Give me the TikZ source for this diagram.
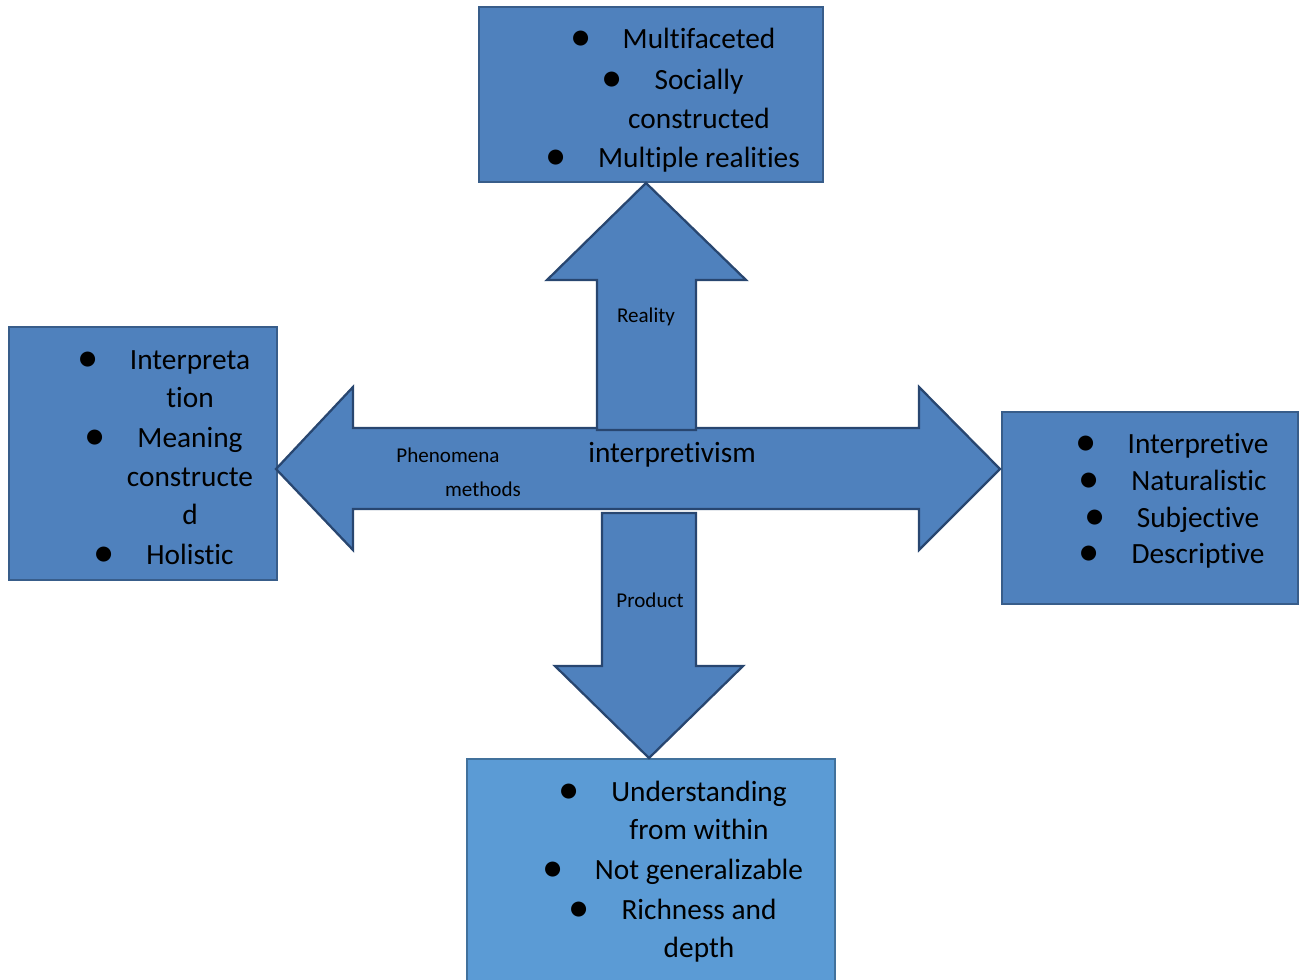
\documentclass[tikz,border=0pt]{standalone}
\usepackage{fontspec}
\usepackage{graphicx}
\setmainfont{Carlito}[Ligatures={NoCommon}]
\definecolor{boxfill}{HTML}{4F81BD}
\definecolor{boxline}{HTML}{385D8A}
\definecolor{arrline}{HTML}{284670}
\definecolor{botfill}{HTML}{5B9BD5}
\definecolor{botline}{HTML}{41719C}
\newcommand{\bul}{\llap{\makebox[0pt][c]{\smash{\raisebox{-1.5pt}{\scalebox{1.45}{\textbullet}}}}\kern31.5pt}}
\tikzset{
  panel/.style={fill=boxfill, draw=boxline, line width=1.6pt},
  blockarrow/.style={fill=boxfill, draw=arrline, line width=1.7pt, line join=miter},
  txt/.style={anchor=base, inner sep=0pt, font=\fontsize{22}{26}\selectfont},
  small/.style={anchor=base, inner sep=0pt, font=\fontsize{15.8}{18}\selectfont},
}
\begin{document}
\begin{tikzpicture}[x=0.75pt,y=-0.75pt]
\useasboundingbox (0,0) rectangle (1301,979);
% boxes
\draw[panel] (479,7) rectangle (823,182);
\draw[panel] (9,327) rectangle (277,580);
\draw[panel] (1002,412) rectangle (1298,604);
\draw[fill=botfill, draw=botline, line width=1.6pt] (467,759) rectangle (835,990);
% horizontal double arrow
\draw[blockarrow] (276,469) -- (353,387) -- (353,428) -- (919,428) -- (919,387)
  -- (1000,469) -- (919,550) -- (919,509) -- (353,509) -- (353,550) -- cycle;
% up arrow
\draw[blockarrow] (646,183) -- (746,280) -- (696,280) -- (696,430) -- (597,430)
  -- (597,280) -- (547,280) -- cycle;
% down arrow
\draw[blockarrow] (649,758) -- (743,666) -- (696,666) -- (696,513) -- (602,513)
  -- (602,666) -- (555,666) -- cycle;
% top box text
\node[txt] (top1) at (699,48) {\bul Multifaceted};
\node[txt] (top2) at (699,89) {\bul Socially};
\node[txt] (top3) at (699,128) {constructed};
\node[txt] (top4) at (699,167) {\bul Multiple realities};
% left box text
\node[txt] (left1) at (190,369) {\bul Interpreta};
\node[txt] (left2) at (190,407) {tion};
\node[txt] (left3) at (190,447) {\bul Meaning};
\node[txt] (left4) at (190,486) {constructe};
\node[txt] (left5) at (190,524) {d};
\node[txt] (left6) at (190,564) {\bul Holistic};
% right box text
\node[txt] (right1) at (1198,453) {\bul Interpretive};
\node[txt] (right2) at (1199,490) {\bul Naturalistic};
\node[txt] (right3) at (1198,527) {\bul Subjective};
\node[txt] (right4) at (1198,563) {\bul Descriptive};
% bottom box text
\node[txt] (bot1) at (699,801) {\bul Understanding};
\node[txt] (bot2) at (699,839) {from within};
\node[txt] (bot3) at (699,879) {\bul Not generalizable};
\node[txt] (bot4) at (699,919) {\bul Richness and};
\node[txt] (bot5) at (699,957) {depth};
% arrow labels
\node[small] (reality) at (646,322) {Reality};
\node[small] (phen) at (448,462) {Phenomena};
\node[small] (meth) at (483,496) {methods};
\node[txt] (interp) at (672,462) {interpretivism};
\node[small] (prod) at (650,607) {Product};
\end{tikzpicture}
\end{document}
